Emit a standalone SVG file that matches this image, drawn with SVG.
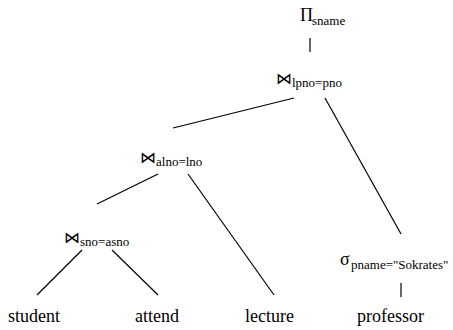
<svg xmlns="http://www.w3.org/2000/svg" width="453" height="330" viewBox="0 0 453 330">
<style>
.lbl{font-size:18px;font-family:"Liberation Serif","Times New Roman",serif}
.op{font-size:18px;font-family:"Liberation Serif","Times New Roman",serif}
.j{font-size:16px;font-family:"DejaVu Serif",serif}
.sub{font-size:13px;font-family:"Liberation Serif","Times New Roman",serif}
.e{stroke:#000;stroke-width:1.2;fill:none}
</style>
<rect width="453" height="330" fill="#fff"/>
<g id="connectors">
<line class="e" x1="310" y1="38" x2="310" y2="52"/>
<line class="e" x1="294" y1="98" x2="173" y2="128"/>
<line class="e" x1="325" y1="98" x2="401" y2="234"/>
<line class="e" x1="158" y1="174" x2="97" y2="204"/>
<line class="e" x1="188" y1="174" x2="274" y2="295"/>
<line class="e" x1="82" y1="250" x2="37" y2="295"/>
<line class="e" x1="112" y1="250" x2="158" y2="295"/>
<line class="e" x1="401" y1="283" x2="401" y2="297"/>
</g>
<g id="proj"><text x="300" y="21" class="op">Π</text><text x="312" y="25" class="sub">sname</text></g>
<g id="join1"><text x="276" y="84" class="j">⋈</text><text x="292" y="87" class="sub">lpno=pno</text></g>
<g id="join2"><text x="140" y="163" class="j">⋈</text><text x="156" y="166" class="sub">alno=lno</text></g>
<g id="join3"><text x="64" y="243" class="j">⋈</text><text x="80" y="246" class="sub">sno=asno</text></g>
<g id="select"><text x="340" y="265" class="op">σ</text><text x="351" y="269" class="sub">pname="Sokrates"</text></g>
<g id="student"><text x="8" y="322" class="lbl">student</text></g>
<g id="attend"><text x="135" y="322" class="lbl">attend</text></g>
<g id="lecture"><text x="245" y="322" class="lbl">lecture</text></g>
<g id="professor"><text x="357" y="322" class="lbl">professor</text></g>
</svg>
